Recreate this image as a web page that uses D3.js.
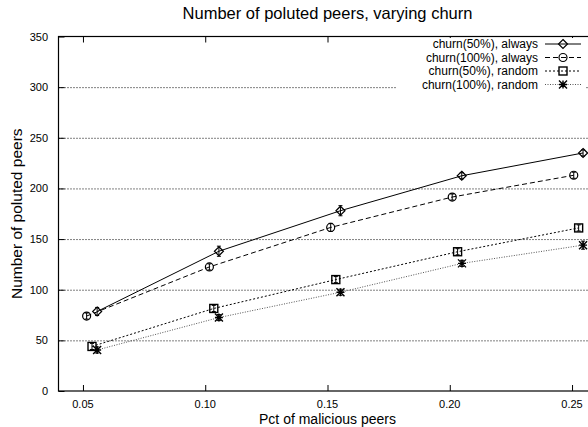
<!DOCTYPE html>
<html>
<head>
<meta charset="utf-8">
<script src="https://d3js.org/d3.v7.min.js"></script>
<style>
  body { margin: 0; background: #fff; }
  text { font-family: "Liberation Sans", Arial, Helvetica, sans-serif; fill: #000; }
</style>
</head>
<body>
<script>
// data
var seriesNames = ["churn(50%), always", "churn(100%), always", "churn(50%), random", "churn(100%), random"];
var xAlways50 = [0.0558, 0.1056, 0.1553, 0.2049, 0.2545];
var yAlways50 = [78.5, 138, 178, 212.5, 235];
var eAlways50 = [4, 5, 5, 3, 3];
var xAlways100 = [0.0515, 0.1017, 0.1513, 0.2010, 0.2507];
var yAlways100 = [74, 122.5, 161.5, 191.5, 213];
var eAlways100 = [3, 3, 4, 3, 3];
var xRandom50 = [0.0537, 0.1035, 0.1534, 0.2032, 0.2527];
var yRandom50 = [44, 81.5, 110, 137.5, 161];
var eRandom50 = [3, 3, 3, 3, 3];
var xRandom100 = [0.0558, 0.1056, 0.1553, 0.2050, 0.2545];
var yRandom100 = [40.5, 72.5, 97.5, 126, 144];
var eRandom100 = [3, 3, 3, 3, 4];
var xTicks = [0.05, 0.10, 0.15, 0.20, 0.25];
var yTicks = [0, 50, 100, 150, 200, 250, 300, 350];

var width = 588, height = 427;
var plotLeft = 58.5, plotRight = 596.5, plotTop = 36.5, plotBottom = 391;

var svg = d3.select("body")
  .append("svg")
    .attr("width", width)
    .attr("height", height);

var x = d3.scaleLinear().domain([0.04, 0.26]).range([plotLeft, plotRight]);
var y = d3.scaleLinear().domain([0, 350]).range([plotBottom, plotTop]);

// grid
svg.append("g")
  .selectAll("line")
  .data(yTicks.filter(function(d) { return d > 0 && d < 350; }))
  .enter()
  .append("line")
    .attr("x1", plotLeft).attr("x2", plotRight)
    .attr("y1", function(d) { return y(d) + 0.5; })
    .attr("y2", function(d) { return y(d) + 0.5; })
    .attr("stroke", "#000")
    .attr("stroke-width", 1)
    .attr("stroke-dasharray", "1,2");

// axes with inward ticks
var yAxis = svg.append("g")
  .attr("transform", "translate(" + plotLeft + ",0)")
  .call(d3.axisRight(y).tickValues(yTicks).tickSize(6).tickFormat(""));
var xAxis = svg.append("g")
  .attr("transform", "translate(0," + plotBottom + ")")
  .call(d3.axisTop(x).tickValues(xTicks).tickSize(6).tickFormat(""));
var xTop = svg.append("g")
  .attr("transform", "translate(0," + plotTop + ")")
  .call(d3.axisBottom(x).tickValues(xTicks).tickSize(6).tickFormat(""));
[yAxis, xAxis, xTop].forEach(function(g) {
  g.select(".domain").remove();
  g.selectAll("line").attr("stroke", "#000");
});

// frame
svg.append("rect")
  .attr("x", plotLeft).attr("y", plotTop)
  .attr("width", plotRight - plotLeft).attr("height", plotBottom - plotTop)
  .attr("fill", "none").attr("stroke", "#000").attr("stroke-width", 1.2);

// tick labels
svg.append("g")
  .selectAll("text")
  .data(yTicks)
  .enter()
  .append("text")
    .attr("x", 48)
    .attr("y", function(d) { return y(d) + 4; })
    .attr("text-anchor", "end")
    .style("font-size", "11px")
    .text(function(d) { return d; });
svg.append("g")
  .selectAll("text")
  .data(xTicks)
  .enter()
  .append("text")
    .attr("x", function(d) { return x(d); })
    .attr("y", 408)
    .attr("text-anchor", "middle")
    .style("font-size", "11px")
    .text(function(d) { return d3.format(".2f")(d); });

// titles
svg.append("text")
  .attr("x", (plotLeft + plotRight) / 2).attr("y", 19)
  .attr("text-anchor", "middle")
  .style("font-size", "16.5px")
  .text("Number of poluted peers, varying churn");
svg.append("text")
  .attr("x", (plotLeft + plotRight) / 2).attr("y", 423.5)
  .attr("text-anchor", "middle")
  .style("font-size", "14px")
  .text("Pct of malicious peers");
svg.append("text")
  .attr("transform", "translate(22," + (plotTop + plotBottom) / 2 + ")rotate(-90)")
  .attr("text-anchor", "middle")
  .style("font-size", "15.5px")
  .text("Number of poluted peers");

// series
var series = [
  {name: seriesNames[0], xs: xAlways50, ys: yAlways50, es: eAlways50, dash: null, color: "#000", sym: "diamond"},
  {name: seriesNames[1], xs: xAlways100, ys: yAlways100, es: eAlways100, dash: "5,3", color: "#000", sym: "circle"},
  {name: seriesNames[2], xs: xRandom50, ys: yRandom50, es: eRandom50, dash: "2,2", color: "#000", sym: "square"},
  {name: seriesNames[3], xs: xRandom100, ys: yRandom100, es: eRandom100, dash: "1,1.5", color: "#555", sym: "star"}
];

function drawMarker(g, sym, cx, cy) {
  if (sym == "diamond") {
    g.append("path")
      .attr("d", "M" + cx + "," + (cy - 4.5) + "L" + (cx + 4.5) + "," + cy + "L" + cx + "," + (cy + 4.5) + "L" + (cx - 4.5) + "," + cy + "Z")
      .attr("fill", "none").attr("stroke", "#000").attr("stroke-width", 1.2);
  } else if (sym == "circle") {
    g.append("circle").attr("cx", cx).attr("cy", cy).attr("r", 4)
      .attr("fill", "none").attr("stroke", "#000").attr("stroke-width", 1.2);
  } else if (sym == "square") {
    g.append("rect").attr("x", cx - 4).attr("y", cy - 4).attr("width", 8).attr("height", 8)
      .attr("fill", "none").attr("stroke", "#000").attr("stroke-width", 1.4);
  } else {
    var s = 4;
    g.append("path")
      .attr("d", "M" + (cx - s) + "," + cy + "H" + (cx + s) +
                 "M" + cx + "," + (cy - s) + "V" + (cy + s) +
                 "M" + (cx - s) + "," + (cy - s) + "L" + (cx + s) + "," + (cy + s) +
                 "M" + (cx - s) + "," + (cy + s) + "L" + (cx + s) + "," + (cy - s))
      .attr("stroke", "#000").attr("stroke-width", 1.4);
  }
}

var line = d3.line()
  .x(function(d) { return x(d[0]); })
  .y(function(d) { return y(d[1]); });

series.forEach(function(s) {
  var pts = s.xs.map(function(v, i) { return [v, s.ys[i], s.es[i]]; });
  svg.append("path")
    .datum(pts)
    .attr("d", line)
    .attr("fill", "none")
    .attr("stroke", s.color)
    .attr("stroke-width", 1)
    .attr("stroke-dasharray", s.dash);
  var g = svg.append("g");
  pts.forEach(function(p) {
    var cx = x(p[0]), yl = y(p[1] - p[2]), yh = y(p[1] + p[2]);
    g.append("path")
      .attr("d", "M" + cx + "," + yl + "V" + yh + "M" + (cx - 2) + "," + yl + "H" + (cx + 2) + "M" + (cx - 2) + "," + yh + "H" + (cx + 2))
      .attr("stroke", "#000").attr("stroke-width", 1);
    drawMarker(g, s.sym, cx, y(p[1]));
  });
});

// legend with opaque background
var legendRight = 538, rowY = [44, 57.5, 71, 84.5];
svg.append("rect")
  .attr("x", 397).attr("y", 38).attr("width", 188).attr("height", 53)
  .attr("fill", "#fff");
series.forEach(function(s, i) {
  svg.append("text")
    .attr("x", legendRight).attr("y", rowY[i] + 4.3)
    .attr("text-anchor", "end")
    .style("font-size", "12px")
    .text(s.name);
  svg.append("line")
    .attr("x1", 545).attr("x2", 581)
    .attr("y1", rowY[i]).attr("y2", rowY[i])
    .attr("stroke", s.color).attr("stroke-width", 1)
    .attr("stroke-dasharray", s.dash);
  drawMarker(svg, s.sym, 563, rowY[i]);
});
</script>
</body>
</html>
